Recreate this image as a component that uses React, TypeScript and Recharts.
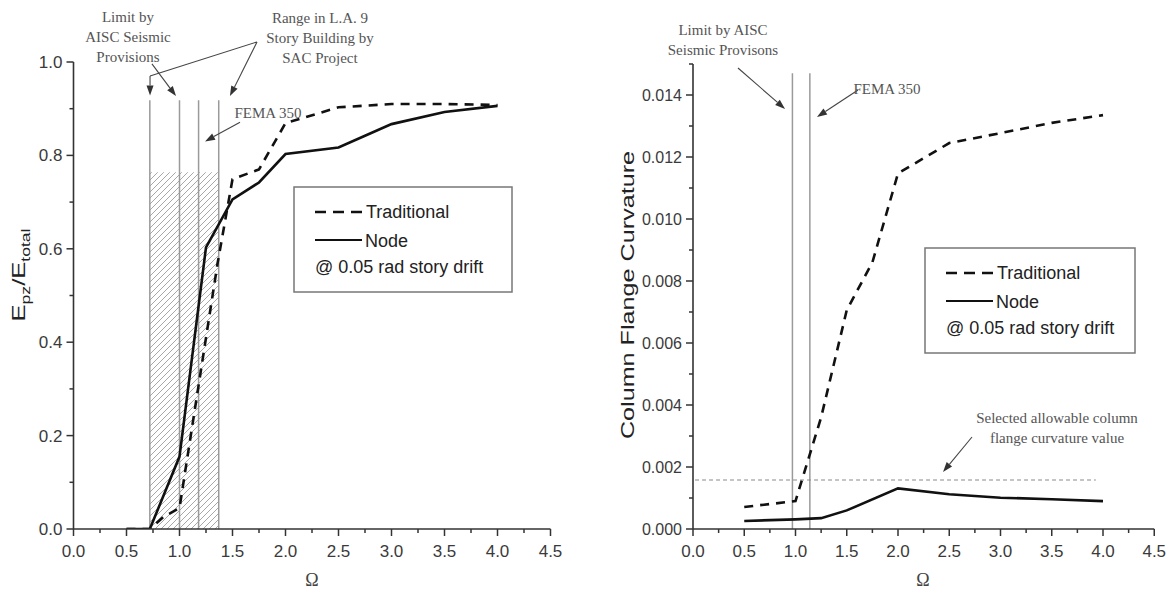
import React from "react"
import { LineChart, Line, XAxis, YAxis, ReferenceLine, ReferenceArea } from "recharts"

// ---- left panel: energy ratio vs omega ----
const leftTradOmega = [0.5, 0.72, 0.85, 1.0, 1.36, 1.5, 1.75, 2.0, 2.5, 3.0, 3.5, 4.0]
const leftTradRatio = [0, 0, 0.026, 0.045, 0.57, 0.749, 0.77, 0.869, 0.903, 0.91, 0.91, 0.908]
const leftNodeOmega = [0.5, 0.72, 1.0, 1.25, 1.5, 1.75, 2.0, 2.5, 2.75, 3.0, 3.5, 4.0]
const leftNodeRatio = [0, 0, 0.155, 0.603, 0.706, 0.742, 0.803, 0.817, 0.842, 0.867, 0.893, 0.906]
const leftLimitLines = [0.72, 1.0, 1.18, 1.37]
const leftLimitTop = 0.918
const hatchRange = [0.72, 1.37]
const hatchTop = 0.764

// ---- right panel: column flange curvature vs omega ----
const rightTradOmega = [0.5, 1.0, 1.25, 1.5, 1.75, 2.0, 2.5, 3.0, 3.5, 4.0]
const rightTradCurv = [0.00071, 0.0009, 0.0036, 0.00706, 0.0086, 0.01147, 0.01245, 0.01277, 0.0131, 0.01335]
const rightNodeOmega = [0.5, 1.0, 1.25, 1.5, 2.0, 2.5, 3.0, 3.5, 4.0]
const rightNodeCurv = [0.00026, 0.00031, 0.00035, 0.0006, 0.00131, 0.00112, 0.00101, 0.00096, 0.0009]
const rightLimitLines = [0.97, 1.14]
const rightLimitTop = 0.0147
const allowableCurv = 0.00158
const allowableRange = [0.02, 3.93]

// ticks
const omegaTicks = [0, 0.25, 0.5, 0.75, 1, 1.25, 1.5, 1.75, 2, 2.25, 2.5, 2.75, 3, 3.25, 3.5, 3.75, 4, 4.25, 4.5]
const ratioTicks = [0, 0.1, 0.2, 0.3, 0.4, 0.5, 0.6, 0.7, 0.8, 0.9, 1.0]
const curvTicks = [0, 0.001, 0.002, 0.003, 0.004, 0.005, 0.006, 0.007, 0.008, 0.009, 0.01, 0.011, 0.012, 0.013, 0.014, 0.015]

const AXIS = "#333"
const LABEL = "#3a3a3a"
const NOTE = "#555"
const SANS = "'Liberation Sans', Arial, sans-serif"
const SERIF = "'Liberation Serif', 'Times New Roman', serif"

const pts = (xs: number[], ys: number[]) => xs.map((x, i) => ({ x, y: ys[i] }))

const isMultiple = (v: number, step: number) => Math.abs(v / step - Math.round(v / step)) < 1e-6

const XTick = ({ x, y, payload }: any) => {
  const major = isMultiple(payload.value, 0.5)
  return (
    <g>
      <line x1={x} x2={x} y1={y} y2={y + (major ? 7 : 4)} stroke={AXIS} strokeWidth={1.5} />
      {major && (
        <text x={x} y={y + 28} textAnchor="middle" fontSize={17} fontFamily={SANS} fill={LABEL}>
          {payload.value.toFixed(1)}
        </text>
      )}
    </g>
  )
}

const makeYTick = (step: number, digits: number, last: number, size: number) => ({ x, y, payload }: any) => {
  const major = isMultiple(payload.value, step) && payload.value <= last + 1e-9
  return (
    <g>
      <line x1={x} x2={x - (major ? 7 : 4)} y1={y} y2={y} stroke={AXIS} strokeWidth={1.5} />
      {major && (
        <text x={x - 11} y={y + 6} textAnchor="end" fontSize={size} fontFamily={SANS} fill={LABEL}>
          {payload.value.toFixed(digits)}
        </text>
      )}
    </g>
  )
}

const RatioTick = makeYTick(0.2, 1, 1.0, 17)
const CurvTick = makeYTick(0.002, 3, 0.014, 16)

// line with optional arrow head, end points come from the chart scales
const arrow = (head: boolean) => (props: any) => {
  const { x1, y1, x2, y2 } = props
  if ([x1, y1, x2, y2].some((v) => typeof v !== "number" || isNaN(v))) return <g />
  const ang = Math.atan2(y2 - y1, x2 - x1)
  const L = 10
  const W = 3.5
  const bx = x2 - L * Math.cos(ang)
  const by = y2 - L * Math.sin(ang)
  const p1 = `${bx + W * Math.sin(ang)},${by - W * Math.cos(ang)}`
  const p2 = `${bx - W * Math.sin(ang)},${by + W * Math.cos(ang)}`
  return (
    <g>
      <line x1={x1} y1={y1} x2={head ? bx : x2} y2={head ? by : y2} stroke="#444" strokeWidth={1.1} />
      {head && <polygon points={`${x2},${y2} ${p1} ${p2}`} fill="#333" />}
    </g>
  )
}

const lineStyle = { stroke: "#111", strokeWidth: 2.6, dot: false, type: "linear" as const, isAnimationActive: false }

function LeftPanel() {
  return (
    <LineChart width={600} height={597} margin={{ top: 62, right: 49.5, bottom: 38, left: 13.5 }}>
      <XAxis
        dataKey="x"
        type="number"
        domain={[0, 4.5]}
        ticks={omegaTicks}
        interval={0}
        tickSize={0}
        tickMargin={0}
        height={30}
        tick={<XTick />}
        axisLine={{ stroke: AXIS, strokeWidth: 1.6 }}
        allowDataOverflow
      />
      <YAxis
        type="number"
        domain={[0, 1]}
        ticks={ratioTicks}
        interval={0}
        tickSize={0}
        tickMargin={0}
        width={60}
        tick={<RatioTick />}
        axisLine={{ stroke: AXIS, strokeWidth: 1.6 }}
        allowDataOverflow
      />
      <ReferenceArea x1={hatchRange[0]} x2={hatchRange[1]} y1={0} y2={hatchTop} fill="url(#hatch)" fillOpacity={1} stroke="none" />
      {leftLimitLines.map((v) => (
        <ReferenceLine key={v} segment={[{ x: v, y: 0 }, { x: v, y: leftLimitTop }]} stroke="#9a9a9a" strokeWidth={1.5} />
      ))}
      <ReferenceLine segment={[{ x: 0.74, y: 0.996 }, { x: 0.967, y: 0.927 }]} ifOverflow="visible" shape={arrow(true)} />
      <ReferenceLine segment={[{ x: 1.731, y: 1.043 }, { x: 0.722, y: 0.97 }]} ifOverflow="visible" shape={arrow(false)} />
      <ReferenceLine segment={[{ x: 0.722, y: 0.97 }, { x: 0.722, y: 0.928 }]} ifOverflow="visible" shape={arrow(true)} />
      <ReferenceLine segment={[{ x: 1.731, y: 1.043 }, { x: 1.476, y: 0.927 }]} ifOverflow="visible" shape={arrow(true)} />
      <ReferenceLine segment={[{ x: 1.571, y: 0.871 }, { x: 1.241, y: 0.83 }]} ifOverflow="visible" shape={arrow(true)} />
      <Line data={pts(leftTradOmega, leftTradRatio)} dataKey="y" strokeDasharray="9 7" {...lineStyle} />
      <Line data={pts(leftNodeOmega, leftNodeRatio)} dataKey="y" {...lineStyle} />
    </LineChart>
  )
}

function RightPanel() {
  return (
    <LineChart width={568} height={597} margin={{ top: 64, right: 13.75, bottom: 38, left: 33 }}>
      <XAxis
        dataKey="x"
        type="number"
        domain={[0, 4.5]}
        ticks={omegaTicks}
        interval={0}
        tickSize={0}
        tickMargin={0}
        height={30}
        tick={<XTick />}
        axisLine={{ stroke: AXIS, strokeWidth: 1.6 }}
        allowDataOverflow
      />
      <YAxis
        type="number"
        domain={[0, 0.015]}
        ticks={curvTicks}
        interval={0}
        tickSize={0}
        tickMargin={0}
        width={60}
        tick={<CurvTick />}
        axisLine={{ stroke: AXIS, strokeWidth: 1.6 }}
        allowDataOverflow
      />
      {rightLimitLines.map((v) => (
        <ReferenceLine key={v} segment={[{ x: v, y: 0 }, { x: v, y: rightLimitTop }]} stroke="#9a9a9a" strokeWidth={1.5} />
      ))}
      <ReferenceLine
        segment={[{ x: allowableRange[0], y: allowableCurv }, { x: allowableRange[1], y: allowableCurv }]}
        stroke="#8a8a8a"
        strokeWidth={1.2}
        strokeDasharray="4 3"
      />
      <ReferenceLine segment={[{ x: 0.439, y: 0.01487 }, { x: 0.898, y: 0.01355 }]} ifOverflow="visible" shape={arrow(true)} />
      <ReferenceLine segment={[{ x: 1.61, y: 0.01416 }, { x: 1.21, y: 0.01329 }]} ifOverflow="visible" shape={arrow(true)} />
      <ReferenceLine segment={[{ x: 2.722, y: 0.002968 }, { x: 2.439, y: 0.001839 }]} ifOverflow="visible" shape={arrow(true)} />
      <Line data={pts(rightTradOmega, rightTradCurv)} dataKey="y" strokeDasharray="9 7" {...lineStyle} />
      <Line data={pts(rightNodeOmega, rightNodeCurv)} dataKey="y" {...lineStyle} />
    </LineChart>
  )
}

const Legend = ({ x, y, w, h }: { x: number; y: number; w: number; h: number }) => (
  <g fontFamily={SANS} fontSize={18} fill="#222">
    <rect x={x} y={y} width={w} height={h} fill="#fff" stroke="#777" strokeWidth={1.5} />
    <line x1={x + 21} x2={x + 68} y1={y + 25} y2={y + 25} stroke="#111" strokeWidth={2.6} strokeDasharray="11 7" />
    <text x={x + 72} y={y + 31}>Traditional</text>
    <line x1={x + 21} x2={x + 68} y1={y + 53} y2={y + 53} stroke="#111" strokeWidth={2} />
    <text x={x + 71} y={y + 60}>Node</text>
    <text x={x + 21} y={y + 86}>@ 0.05 rad story drift</text>
  </g>
)

const Note = ({ x, y, lines }: { x: number; y: number; lines: string[] }) => (
  <text x={x} y={y} textAnchor="middle" fontFamily={SERIF} fontSize={15} fill={NOTE}>
    {lines.map((l, i) => (
      <tspan key={i} x={x} dy={i === 0 ? 0 : 20}>
        {l}
      </tspan>
    ))}
  </text>
)

function Overlay() {
  return (
    <svg width={1168} height={597} style={{ position: "absolute", left: 0, top: 0, pointerEvents: "none" }}>
      <Note x={128} y={22} lines={["Limit by", "AISC Seismic", "Provisions"]} />
      <Note x={320} y={23} lines={["Range in L.A. 9", "Story Building by", "SAC Project"]} />
      <Note x={268} y={118} lines={["FEMA 350"]} />
      <Note x={723} y={35} lines={["Limit by AISC", "Seismic Provisons"]} />
      <Note x={887} y={94} lines={["FEMA 350"]} />
      <Note x={1057} y={423} lines={["Selected allowable column", "flange curvature value"]} />
      <Legend x={294} y={187} w={218} h={105} />
      <Legend x={925} y={248} w={210} h={105} />
      <text x={312} y={586} textAnchor="middle" fontFamily={SERIF} fontSize={18} fill="#444">Ω</text>
      <text x={923} y={586} textAnchor="middle" fontFamily={SERIF} fontSize={18} fill="#444">Ω</text>
      <text transform="translate(25,275) rotate(-90) scale(1.35,1)" textAnchor="middle" fontFamily={SANS} fontSize={19} fill="#222">
        E<tspan fontSize={13} dy={5}>pz</tspan>
        <tspan dy={-5}>/E</tspan>
        <tspan fontSize={13} dy={5}>total</tspan>
      </text>
      <text transform="translate(634,295) rotate(-90) scale(1.4,1)" textAnchor="middle" fontFamily={SANS} fontSize={18} fill="#222">
        Column Flange Curvature
      </text>
    </svg>
  )
}

export default function App() {
  return (
    <div style={{ position: "absolute", left: 0, top: 0, width: 1168, height: 597, background: "#fff" }}>
      <svg width={0} height={0} style={{ position: "absolute" }}>
        <defs>
          <pattern id="hatch" patternUnits="userSpaceOnUse" width={6} height={6}>
            <path d="M0,6 L6,0 M-1,1 L1,-1 M5,7 L7,5" stroke="#a8a8a8" strokeWidth={1} />
          </pattern>
        </defs>
      </svg>
      <div style={{ position: "absolute", left: 0, top: 0 }}>
        <LeftPanel />
      </div>
      <div style={{ position: "absolute", left: 600, top: 0 }}>
        <RightPanel />
      </div>
      <Overlay />
    </div>
  )
}
